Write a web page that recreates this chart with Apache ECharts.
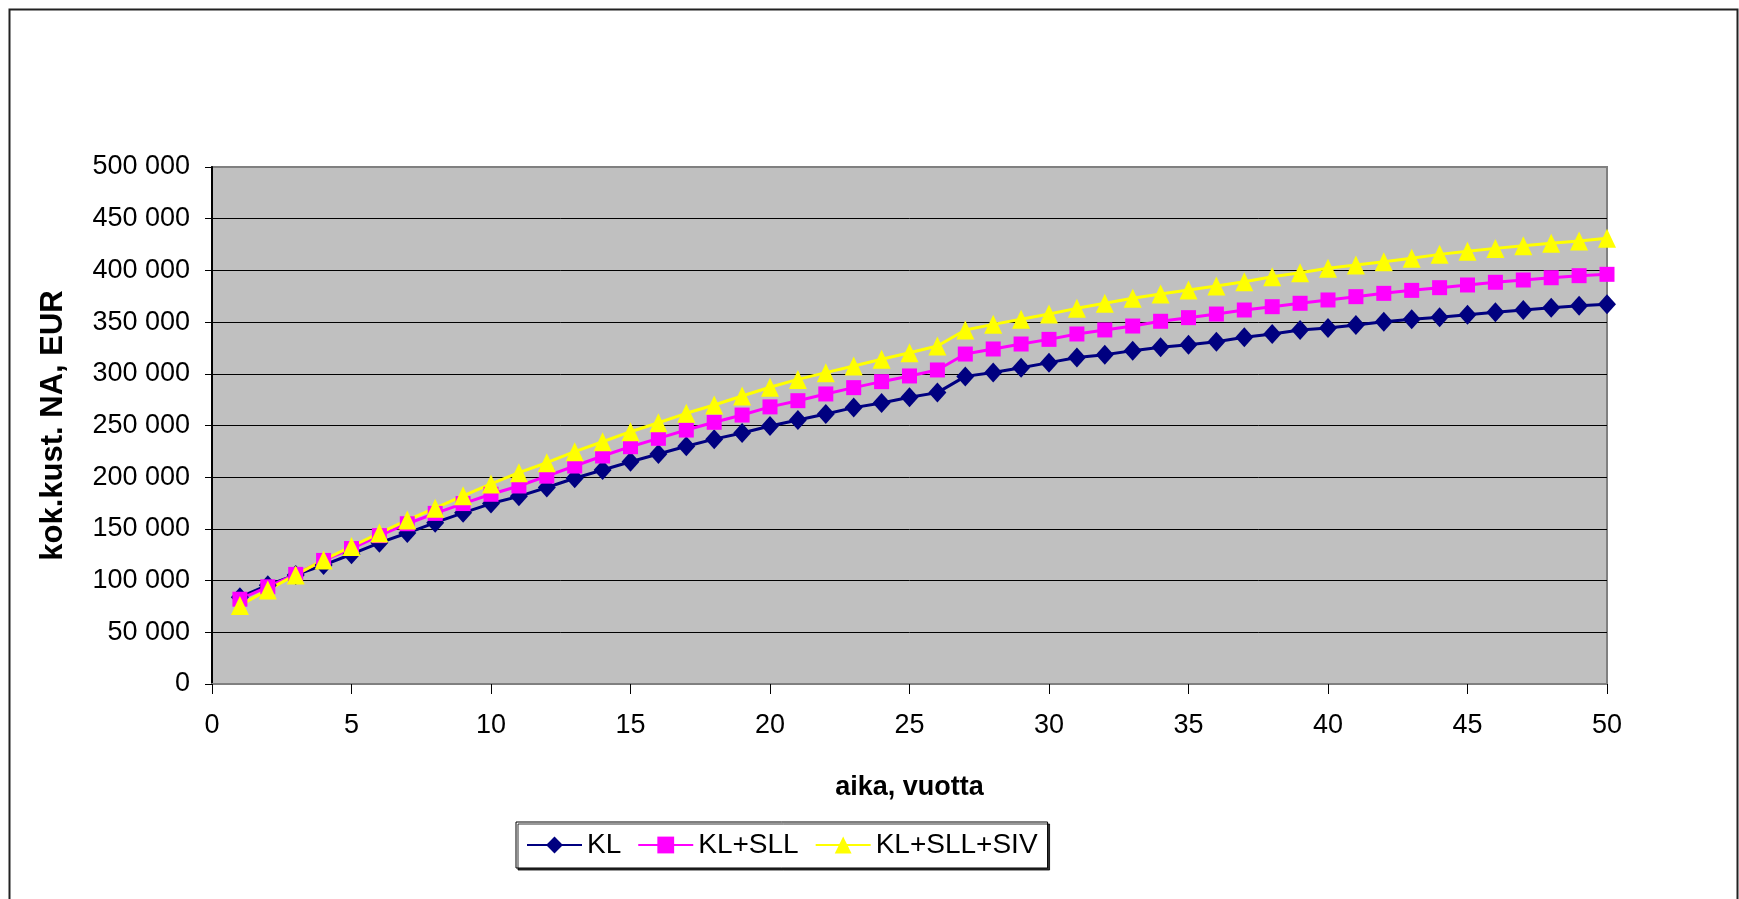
<!DOCTYPE html>
<html>
<head>
<meta charset="utf-8">
<script src="https://cdn.jsdelivr.net/npm/echarts@6/dist/echarts.min.js"></script>
<style>
  html, body { margin: 0; padding: 0; background: #fff; }
  #chart { width: 1739px; height: 899px; }
</style>
</head>
<body>
<div id="chart"></div>
<script>
// Years on the x-axis
const years = [1,2,3,4,5,6,7,8,9,10,11,12,13,14,15,16,17,18,19,20,21,22,23,24,25,
               26,27,28,29,30,31,32,33,34,35,36,37,38,39,40,41,42,43,44,45,46,47,48,49,50];

// Cumulative costs, present value (EUR)
const klValues = [84000,95500,105500,115000,125500,136500,146000,156000,165500,174500,
                  181500,190000,199000,207000,215000,222500,230000,236800,242800,249500,
                  255300,261100,267300,271800,277300,281800,297500,301200,305900,310800,
                  315700,318500,322400,325700,328000,331000,335300,338500,342300,344200,
                  347300,350400,352800,354800,357000,359500,361700,363900,365800,367300];

const klSllValues = [82000,94000,106000,119500,131000,143500,155000,165000,174500,183500,
                     191500,201000,210800,220500,229500,237600,245600,253100,260100,268000,
                     274000,280500,286600,292400,297900,303700,319100,324000,328800,333300,
                     338500,342400,346200,350800,354300,357800,361700,364900,368200,371400,
                     374600,377800,380700,383300,385900,388500,390700,392900,394900,396200];

const klSllSivValues = [76000,91000,105500,120000,133000,146000,158500,170000,182000,193500,
                        204400,214000,224700,234300,244000,252700,261800,269800,278500,287000,
                        294600,301100,307500,314000,320400,326900,342400,347800,352700,357800,
                        363300,368200,373000,377200,381000,384900,389100,393900,397800,402000,
                        405200,408400,411700,415500,418500,421300,423900,426200,428400,431000];

const seriesNames = ['KL', 'KL+SLL', 'KL+SLL+SIV'];
const yTicks = { min: 0, max: 500000, step: 50000 };
const xTicks = { min: 0, max: 50, step: 5 };

const FONT = "'Liberation Sans', Arial, sans-serif";

function pairs(values) {
  return years.map((y, i) => [y, values[i]]);
}
function spaced(v) {
  return String(v).replace(/\B(?=(\d{3})+(?!\d))/g, ' ');
}

const chart = echarts.init(document.getElementById('chart'), null, { renderer: 'canvas' });

chart.setOption({
  backgroundColor: '#ffffff',
  animation: false,
  textStyle: { fontFamily: FONT, color: '#000' },
  graphic: [{
    type: 'rect',
    left: 7, top: 7,
    shape: { width: 1728, height: 1000 },
    style: { fill: 'none', stroke: '#222', lineWidth: 2 },
    z: -10
  }],
  grid: {
    left: 212, top: 167, right: 132, bottom: 215,
    show: true,
    backgroundColor: '#C0C0C0',
    borderColor: '#808080',
    borderWidth: 2
  },
  legend: {
    left: 516, top: 822,
    padding: [8, 10, 8, 10],
    itemWidth: 55, itemHeight: 21, itemGap: 16,
    backgroundColor: '#fff',
    borderColor: '#000', borderWidth: 1,
    shadowColor: 'rgba(0,0,0,0.8)', shadowOffsetX: 2, shadowOffsetY: 2, shadowBlur: 0,
    textStyle: { fontFamily: FONT, fontSize: 28, color: '#000', lineHeight: 30 },
    data: seriesNames
  },
  xAxis: {
    type: 'value',
    min: xTicks.min, max: xTicks.max, interval: xTicks.step,
    name: 'aika, vuotta',
    nameLocation: 'middle',
    nameGap: 90,
    nameTextStyle: { fontFamily: FONT, fontSize: 27, fontWeight: 'bold', color: '#000' },
    axisLine: { show: true, onZero: false, lineStyle: { color: '#808080', width: 2 } },
    axisTick: { show: true, length: 10, lineStyle: { color: '#000', width: 1 } },
    axisLabel: { fontFamily: FONT, fontSize: 27, color: '#000', margin: 42, verticalAlign: 'middle' },
    splitLine: { show: false }
  },
  yAxis: {
    type: 'value',
    min: yTicks.min, max: yTicks.max, interval: yTicks.step,
    name: 'kok.kust. NA, EUR',
    nameLocation: 'middle',
    nameGap: 143,
    nameTextStyle: { fontFamily: FONT, fontSize: 31, fontWeight: 'bold', color: '#000' },
    axisLine: { show: true, lineStyle: { color: '#000', width: 2 } },
    axisTick: { show: true, length: 7, lineStyle: { color: '#000', width: 1 } },
    axisLabel: { fontFamily: FONT, fontSize: 27, color: '#000', margin: 22, formatter: spaced },
    splitLine: { show: true, showMinLine: false, showMaxLine: false, lineStyle: { color: '#000', width: 1 } }
  },
  series: [
    {
      name: seriesNames[0], type: 'line', data: pairs(klValues),
      symbol: 'diamond', symbolSize: [18, 20],
      lineStyle: { color: '#000080', width: 3 },
      itemStyle: { color: '#000080' }
    },
    {
      name: seriesNames[1], type: 'line', data: pairs(klSllValues),
      symbol: 'rect', symbolSize: 15,
      lineStyle: { color: '#FF00FF', width: 3 },
      itemStyle: { color: '#FF00FF' }
    },
    {
      name: seriesNames[2], type: 'line', data: pairs(klSllSivValues),
      symbol: 'triangle', symbolSize: [18, 19],
      lineStyle: { color: '#FFFF00', width: 3 },
      itemStyle: { color: '#FFFF00' }
    }
  ]
});
</script>
</body>
</html>
